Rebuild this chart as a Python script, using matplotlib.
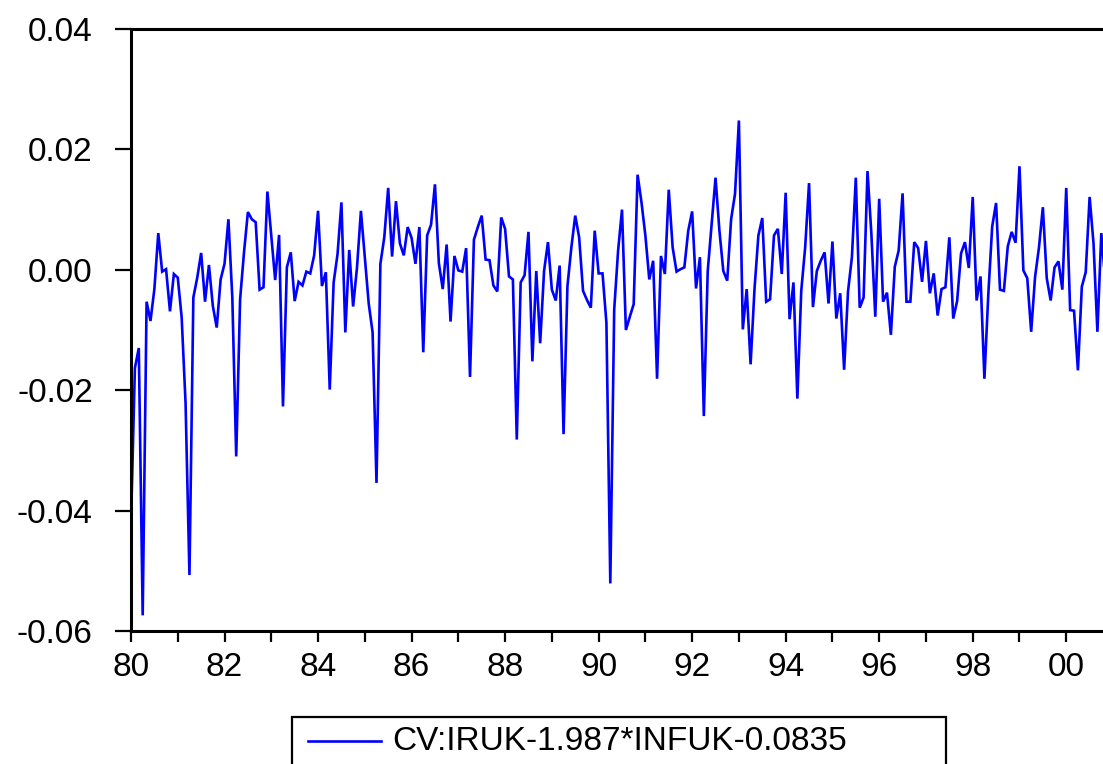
import matplotlib
matplotlib.use("Agg")
import matplotlib.pyplot as plt
from matplotlib.patches import Rectangle
from matplotlib.lines import Line2D
import numpy as np

plt.rcParams['font.family'] = ['Liberation Sans', 'DejaVu Sans']

start_year = 1980
series_label = "CV:IRUK-1.987*INFUK-0.0835"
cv_values = [
    -0.0421, -0.0163, -0.0130, -0.0574, -0.0053, -0.0085, -0.0032, 0.0061, -0.0003, 0.0001, -0.0069, -0.0007,
    -0.0013, -0.0079, -0.0221, -0.0507, -0.0046, -0.0013, 0.0028, -0.0053, 0.0008, -0.0060, -0.0096, -0.0016,
    0.0010, 0.0084, -0.0046, -0.0310, -0.0049, 0.0029, 0.0096, 0.0084, 0.0079, -0.0033, -0.0029, 0.0130,
    0.0056, -0.0017, 0.0058, -0.0227, 0.0004, 0.0029, -0.0052, -0.0020, -0.0026, -0.0003, -0.0006, 0.0024,
    0.0098, -0.0027, -0.0004, -0.0199, -0.0021, 0.0026, 0.0112, -0.0104, 0.0033, -0.0061, 0.0004, 0.0098,
    0.0020, -0.0056, -0.0104, -0.0354, 0.0010, 0.0054, 0.0136, 0.0022, 0.0114, 0.0044, 0.0024, 0.0071,
    0.0053, 0.0010, 0.0071, -0.0137, 0.0057, 0.0075, 0.0142, 0.0011, -0.0032, 0.0042, -0.0086, 0.0023,
    -0.0001, -0.0003, 0.0036, -0.0178, 0.0050, 0.0071, 0.0090, 0.0017, 0.0016, -0.0026, -0.0036, 0.0087,
    0.0068, -0.0011, -0.0016, -0.0282, -0.0021, -0.0009, 0.0063, -0.0152, -0.0002, -0.0122, -0.0002, 0.0046,
    -0.0033, -0.0051, 0.0007, -0.0273, -0.0027, 0.0037, 0.0090, 0.0054, -0.0035, -0.0050, -0.0063, 0.0065,
    -0.0006, -0.0006, -0.0088, -0.0521, -0.0066, 0.0032, 0.0100, -0.0100, -0.0078, -0.0057, 0.0158, 0.0112,
    0.0057, -0.0016, 0.0015, -0.0181, 0.0023, -0.0007, 0.0133, 0.0037, -0.0003, 0.0001, 0.0004, 0.0065,
    0.0097, -0.0031, 0.0021, -0.0243, -0.0002, 0.0076, 0.0153, 0.0065, -0.0002, -0.0018, 0.0084, 0.0126,
    0.0248, -0.0099, -0.0032, -0.0157, -0.0032, 0.0057, 0.0086, -0.0053, -0.0049, 0.0057, 0.0068, -0.0007,
    0.0128, -0.0082, -0.0021, -0.0214, -0.0035, 0.0037, 0.0144, -0.0062, -0.0002, 0.0015, 0.0029, -0.0056,
    0.0047, -0.0081, -0.0039, -0.0166, -0.0036, 0.0021, 0.0153, -0.0063, -0.0046, 0.0164, 0.0059, -0.0078,
    0.0118, -0.0053, -0.0038, -0.0108, 0.0005, 0.0032, 0.0127, -0.0053, -0.0053, 0.0046, 0.0036, -0.0020,
    0.0048, -0.0039, -0.0006, -0.0076, -0.0032, -0.0029, 0.0054, -0.0081, -0.0052, 0.0027, 0.0046, 0.0003,
    0.0121, -0.0051, -0.0011, -0.0181, -0.0041, 0.0072, 0.0111, -0.0033, -0.0035, 0.0039, 0.0063, 0.0045,
    0.0172, -0.0001, -0.0014, -0.0103, -0.0012, 0.0037, 0.0104, -0.0014, -0.0051, 0.0004, 0.0014, -0.0033,
    0.0136, -0.0067, -0.0068, -0.0167, -0.0028, -0.0004, 0.0121, 0.0044, -0.0103, 0.0061, -0.0018,
]
y_ticks = [-0.06, -0.04, -0.02, 0.00, 0.02, 0.04]
y_tick_labels = ["-0.06", "-0.04", "-0.02", "0.00", "0.02", "0.04"]
x_years = list(range(1980, 2001))
x_tick_labels = ["80", "", "82", "", "84", "", "86", "", "88", "", "90", "", "92", "", "94", "", "96", "", "98", "", "00"]

W, H = 1103, 764
fig = plt.figure(figsize=(W / 100, H / 100), dpi=100)
ax = fig.add_axes([131 / W, 1 - 631 / H, (W - 131) / W + 0.002, (631 - 29) / H])

t = start_year + np.arange(len(cv_values)) / 12.0
ax.plot(t, cv_values, color="#0000ff", lw=1.9, solid_joinstyle="miter")

ax.set_xlim(start_year, start_year + (len(cv_values) - 1) / 12.0)
ax.set_ylim(-0.06, 0.04)
ax.set_yticks(y_ticks)
ax.set_yticklabels(y_tick_labels)
ax.set_xticks(x_years)
ax.set_xticklabels(x_tick_labels)

for s in ["left", "top", "bottom"]:
    ax.spines[s].set_linewidth(2.2)
    ax.spines[s].set_color("black")
ax.spines["right"].set_visible(False)

ax.tick_params(axis="x", direction="out", length=8, width=1.6, pad=7, labelsize=24)
ax.tick_params(axis="y", direction="out", length=11.5, width=1.6, pad=16, labelsize=24)

# legend box
fig.patches.append(Rectangle((292 / W, -0.05), (946 - 292) / W, 1 - 717 / H + 0.05,
                             transform=fig.transFigure, fill=False, edgecolor="black", lw=1.6))
fig.lines.append(Line2D([308 / W, 381 / W], [1 - 741 / H, 1 - 741 / H], transform=fig.transFigure,
                        color="#0000ff", lw=1.9))
fig.text(392 / W, 1 - 742 / H, series_label, fontsize=24, va="center", ha="left")

fig.savefig("out.png", dpi=100)
